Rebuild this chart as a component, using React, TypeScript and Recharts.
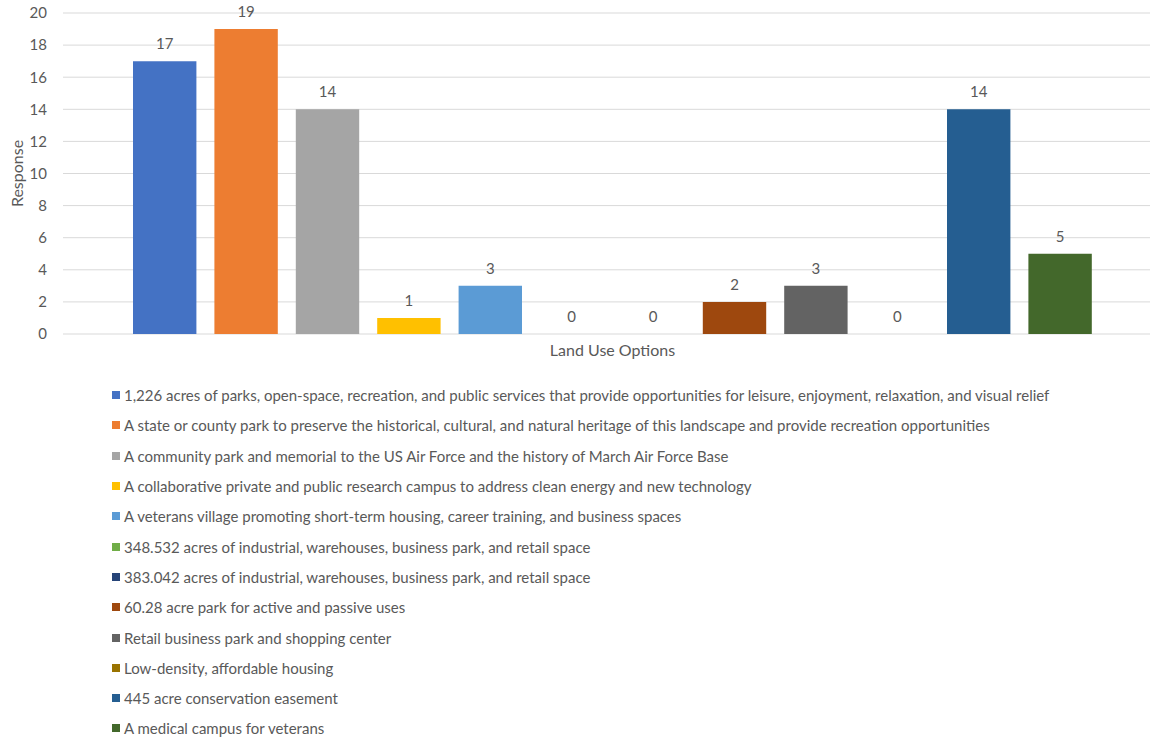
import { Bar, BarChart, CartesianGrid, LabelList, XAxis, YAxis } from "recharts";

// Survey responses per land use option (one category, one series per option)
const OPTIONS = [
  "1,226 acres of parks, open-space, recreation, and public services that provide opportunities for leisure, enjoyment, relaxation, and visual relief",
  "A state or county park to preserve the historical, cultural, and natural heritage of this landscape and provide recreation opportunities",
  "A community park and memorial to the US Air Force and the history of March Air Force Base",
  "A collaborative private and public research campus to address clean energy and new technology",
  "A veterans village promoting short-term housing, career training, and business spaces",
  "348.532 acres of industrial, warehouses, business park, and retail space",
  "383.042 acres of industrial, warehouses, business park, and retail space",
  "60.28 acre park for active and passive uses",
  "Retail business park and shopping center",
  "Low-density, affordable housing",
  "445 acre conservation easement",
  "A medical campus for veterans",
];
const RESPONSES = [17, 19, 14, 1, 3, 0, 0, 2, 3, 0, 14, 5];
const COLORS = [
  "#4472C4", "#ED7D31", "#A5A5A5", "#FFC000", "#5B9BD5", "#70AD47",
  "#264478", "#9E480E", "#636363", "#997300", "#255E91", "#43682B",
];
const Y_TICKS = [0, 2, 4, 6, 8, 10, 12, 14, 16, 18, 20];
const CATEGORY = "Land Use Options";

const FONT = "Lato, 'Open Sans', sans-serif";
const TEXT = "#595959";
const TICK_SIZE = 15;
const TITLE_SIZE = 16;
const LEGEND_SIZE = 15;

const row: Record<string, number | string> = { name: CATEGORY };
RESPONSES.forEach((v, i) => {
  row[`s${i}`] = v;
});
const data = [row];

function YTitle({ viewBox }: any) {
  const cy = viewBox.y + viewBox.height / 2;
  const x = 16;
  return (
    <text
      x={x}
      y={cy}
      transform={`rotate(-90 ${x} ${cy})`}
      textAnchor="middle"
      dominantBaseline="central"
      fill={TEXT}
      fontSize={TITLE_SIZE}
      fontFamily={FONT}
    >
      Response
    </text>
  );
}

function XTitle({ viewBox }: any) {
  return (
    <text
      x={viewBox.x + viewBox.width / 2}
      y={viewBox.y + 15}
      textAnchor="middle"
      dominantBaseline="central"
      fill={TEXT}
      fontSize={TITLE_SIZE}
      fontFamily={FONT}
    >
      {CATEGORY}
    </text>
  );
}

// value label drawn above each bar, including the zero-height ones
function ValueLabel({ x, y, width, value }: any) {
  if (x == null || y == null) return null;
  return (
    <text
      x={x + width / 2}
      y={y - 12}
      textAnchor="middle"
      fill={TEXT}
      fontSize={TICK_SIZE}
      fontFamily={FONT}
    >
      {value}
    </text>
  );
}

function OptionLegend() {
  return (
    <div style={{ position: "absolute", left: 112, top: 380 }}>
      {OPTIONS.map((label, i) => (
        <div
          key={label}
          style={{
            display: "flex",
            alignItems: "center",
            height: 30.3,
            fontSize: LEGEND_SIZE,
            color: TEXT,
            whiteSpace: "nowrap",
          }}
        >
          <span
            style={{
              display: "inline-block",
              width: 8,
              height: 8,
              marginRight: 4,
              backgroundColor: COLORS[i],
            }}
          />
          {label}
        </div>
      ))}
    </div>
  );
}

export default function App() {
  return (
    <div
      style={{
        position: "absolute",
        left: 0,
        top: 0,
        width: 1150,
        height: 738,
        overflow: "hidden",
        background: "#fff",
        fontFamily: FONT,
      }}
    >
      <BarChart
        width={1170}
        height={370}
        data={data}
        margin={{ top: 13, right: 8, left: 8, bottom: 0 }}
        barSize={63.4}
        barGap={18}
      >
        <CartesianGrid vertical={false} stroke="#D9D9D9" />
        <XAxis
          dataKey="name"
          tick={false}
          tickLine={false}
          axisLine={false}
          height={36}
          label={XTitle}
        />
        <YAxis
          domain={[0, 20]}
          ticks={Y_TICKS}
          interval={0}
          width={55}
          tickLine={false}
          axisLine={false}
          tickSize={6}
          tickMargin={10}
          tick={{ fill: TEXT, fontSize: TICK_SIZE, fontFamily: FONT }}
          label={YTitle}
        />
        {OPTIONS.map((label, i) => (
          <Bar
            key={label}
            dataKey={`s${i}`}
            name={label}
            fill={COLORS[i]}
            minPointSize={0.01}
            isAnimationActive={false}
          >
            <LabelList dataKey={`s${i}`} content={ValueLabel} />
          </Bar>
        ))}
      </BarChart>
      <OptionLegend />
    </div>
  );
}
